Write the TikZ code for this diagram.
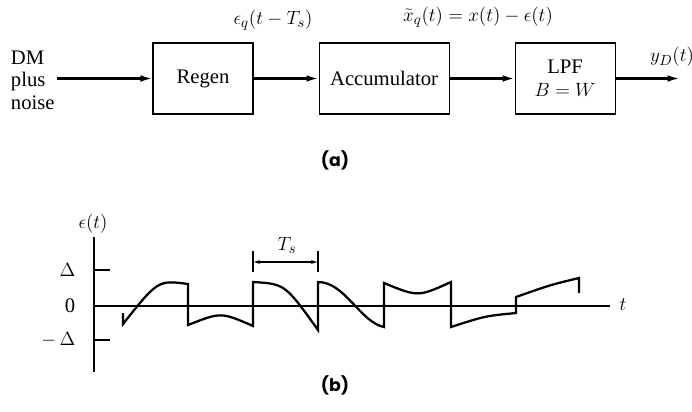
\documentclass[tikz,border=0pt]{standalone}
\usepackage{fontspec}
\setmainfont{Liberation Serif}
\newfontfamily\capfont{Poppins}
\usetikzlibrary{positioning,arrows.meta}

\tikzset{
    every node/.style={font=\fontsize{15.5}{17}\selectfont},
    block/.style={draw, line width=0.8pt, minimum height=53.25pt, inner sep=0pt, align=center},
    sig/.style={line width=1.6pt, -{Latex[length=9pt,width=5pt]}},
    axis/.style={line width=0.8pt},
    wave/.style={line width=1.7pt, line join=miter},
    caption/.style={font=\capfont\bfseries\fontsize{13}{15}\selectfont}
}

\begin{document}
\begin{tikzpicture}[x=0.75pt, y=-0.75pt, node distance=48.75pt]
    \useasboundingbox (0,0) rectangle (692,411);

    % (a) block diagram
    \node [align=left, anchor=west, inner sep=2pt] (src) at (8,80) {DM\\plus\\noise};
    \node [block, minimum width=75pt] (regen) at (203,78.5) {Regen};
    \node [block, minimum width=97.5pt, right=of regen] (acc) {Accumulator};
    \node [block, minimum width=75pt, right=of acc] (lpf) {LPF\\$B = W$};
    \coordinate [right=48pt of lpf] (out);

    \draw [sig] (src.east |- regen) -- (regen);
    \draw [sig] (regen) -- (acc);
    \draw [sig] (acc) -- (lpf);
    \draw [sig] (lpf) -- (out);

    \node (eq) at (273,20) {$\epsilon_q(t - T_s)$};
    \node (xq) at (478,17) {$\widetilde{x}_q(t) = x(t) - \epsilon(t)$};
    \node (yd) at (672,57) {$y_D(t)$};
    \node [caption] (capa) at (335,160) {(a)};

    % (b) error waveform
    \coordinate (o) at (94,306);
    \coordinate (ytop) at (94,237);
    \coordinate (ybot) at (94,372);
    \coordinate (xend) at (610,306);
    \draw [axis] (ytop) -- (ybot);
    \draw [axis] (o) -- (xend);
    \draw [axis] (94,270) -- (110,270);
    \draw [axis] (94,340) -- (110,340);

    \node (elab) at (93,224) {$\epsilon(t)$};
    \node [anchor=east] (dp) at (80,270) {$\Delta$};
    \node [anchor=east] (zr) at (80,306) {0};
    \node [anchor=east] (dm) at (80,340) {$-\,\Delta$};
    \node (tlab) at (623,305) {$t$};

    \draw [wave] (123,313) -- (123,324)
        .. controls (158,280) .. (188,284) -- (188,325)
        .. controls (221,312) .. (253,326) -- (253,282)
        .. controls (285,284) .. (318,330) -- (318,282)
        .. controls (345,282) and (360,322) .. (384,327) -- (384,283)
        .. controls (418,297) .. (451,282) -- (451,327)
        .. controls (485,316) .. (516,313) -- (516,297)
        .. controls (550,285) .. (579,278) -- (579,293);

    % sampling interval
    \coordinate (ts1) at (253,262);
    \coordinate (ts2) at (318,262);
    \draw [axis] (253,251) -- (253,272);
    \draw [axis] (318,251) -- (318,272);
    \draw [axis, {Latex[length=5pt,width=3pt]}-{Latex[length=5pt,width=3pt]}] (ts1) -- (ts2);
    \node (tslab) at (287,245) {$T_s$};

    \node [caption] (capb) at (335,385) {(b)};
\end{tikzpicture}
\end{document}
